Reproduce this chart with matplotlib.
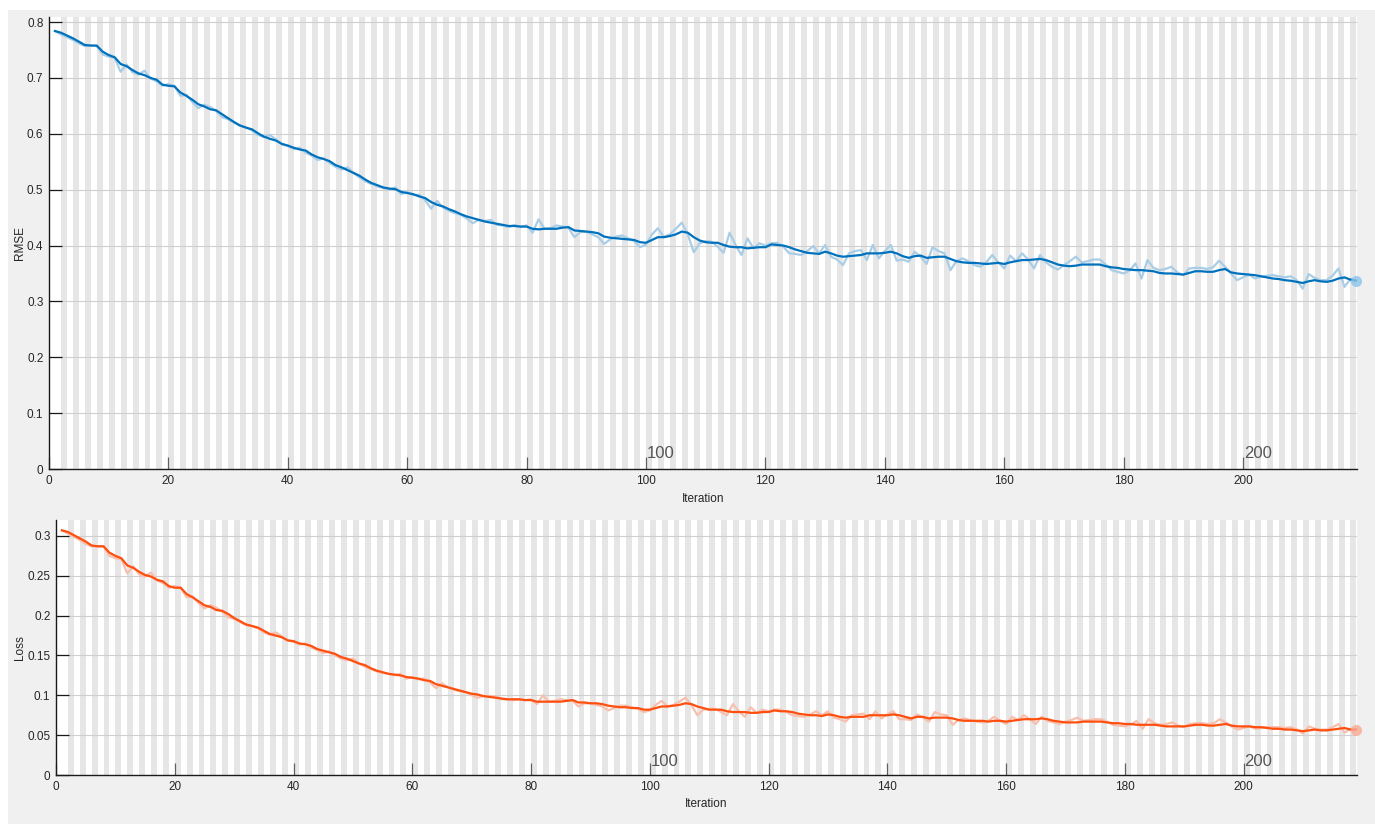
import matplotlib
matplotlib.use("Agg")
import matplotlib.pyplot as plt
from matplotlib.patches import Rectangle
from matplotlib.ticker import FuncFormatter, FixedLocator
import numpy as np

plt.rcParams['font.family'] = ['Liberation Sans', 'DejaVu Sans']

# ---------------- data ----------------
rmse_smooth = [
    0.784, 0.781, 0.776, 0.771, 0.765, 0.759, 0.758, 0.758, 0.747, 0.741,
    0.737, 0.725, 0.721, 0.714, 0.708, 0.705, 0.700, 0.697, 0.688, 0.686,
    0.685, 0.674, 0.668, 0.661, 0.653, 0.649, 0.644, 0.642, 0.635, 0.628,
    0.621, 0.615, 0.611, 0.608, 0.601, 0.595, 0.591, 0.588, 0.582, 0.579,
    0.575, 0.572, 0.570, 0.563, 0.558, 0.555, 0.551, 0.544, 0.540, 0.535,
    0.530, 0.525, 0.518, 0.512, 0.508, 0.504, 0.502, 0.501, 0.496, 0.494,
    0.492, 0.488, 0.485, 0.478, 0.473, 0.470, 0.465, 0.461, 0.456, 0.452,
    0.449, 0.446, 0.443, 0.441, 0.439, 0.437, 0.435, 0.435, 0.434, 0.434,
    0.430, 0.429, 0.430, 0.430, 0.430, 0.432, 0.433, 0.427, 0.426, 0.425,
    0.424, 0.422, 0.416, 0.414, 0.413, 0.412, 0.411, 0.410, 0.406, 0.405,
    0.410, 0.415, 0.415, 0.417, 0.420, 0.425, 0.423, 0.415, 0.409, 0.406,
    0.405, 0.405, 0.401, 0.398, 0.397, 0.397, 0.395, 0.396, 0.397, 0.397,
    0.402, 0.401, 0.400, 0.397, 0.393, 0.390, 0.387, 0.386, 0.385, 0.389,
    0.386, 0.382, 0.380, 0.381, 0.382, 0.383, 0.386, 0.386, 0.386, 0.387,
    0.389, 0.386, 0.381, 0.378, 0.381, 0.382, 0.378, 0.379, 0.380, 0.380,
    0.376, 0.372, 0.370, 0.369, 0.369, 0.368, 0.367, 0.368, 0.369, 0.367,
    0.370, 0.372, 0.374, 0.374, 0.375, 0.376, 0.374, 0.370, 0.366, 0.364,
    0.363, 0.364, 0.366, 0.366, 0.366, 0.366, 0.363, 0.361, 0.360, 0.358,
    0.357, 0.356, 0.356, 0.355, 0.354, 0.351, 0.350, 0.350, 0.349, 0.348,
    0.351, 0.354, 0.354, 0.353, 0.353, 0.356, 0.358, 0.352, 0.350, 0.349,
    0.348, 0.347, 0.345, 0.343, 0.341, 0.340, 0.338, 0.337, 0.335, 0.333,
    0.336, 0.338, 0.336, 0.335, 0.337, 0.341, 0.343, 0.339, 0.337,
]

rmse_raw = [
    0.784, 0.778, 0.773, 0.768, 0.762, 0.757, 0.758, 0.757, 0.742, 0.738,
    0.736, 0.711, 0.724, 0.710, 0.706, 0.713, 0.699, 0.694, 0.686, 0.689,
    0.686, 0.668, 0.670, 0.657, 0.646, 0.652, 0.648, 0.641, 0.630, 0.626,
    0.620, 0.614, 0.612, 0.606, 0.598, 0.594, 0.598, 0.590, 0.581, 0.578,
    0.573, 0.575, 0.566, 0.561, 0.553, 0.556, 0.548, 0.541, 0.536, 0.540,
    0.530, 0.522, 0.515, 0.510, 0.506, 0.503, 0.500, 0.504, 0.492, 0.496,
    0.490, 0.491, 0.481, 0.466, 0.480, 0.468, 0.462, 0.458, 0.455, 0.448,
    0.440, 0.446, 0.444, 0.446, 0.437, 0.436, 0.433, 0.437, 0.433, 0.436,
    0.423, 0.447, 0.430, 0.431, 0.436, 0.434, 0.432, 0.415, 0.424, 0.425,
    0.420, 0.415, 0.403, 0.411, 0.416, 0.418, 0.413, 0.408, 0.397, 0.402,
    0.420, 0.431, 0.415, 0.420, 0.430, 0.441, 0.420, 0.388, 0.404, 0.408,
    0.407, 0.398, 0.387, 0.423, 0.401, 0.383, 0.413, 0.395, 0.404, 0.400,
    0.404, 0.405, 0.398, 0.386, 0.385, 0.383, 0.390, 0.399, 0.386, 0.401,
    0.380, 0.375, 0.365, 0.386, 0.390, 0.392, 0.374, 0.401, 0.377, 0.390,
    0.401, 0.373, 0.375, 0.371, 0.389, 0.380, 0.367, 0.397, 0.390, 0.386,
    0.356, 0.372, 0.377, 0.372, 0.365, 0.362, 0.370, 0.383, 0.370, 0.359,
    0.382, 0.372, 0.386, 0.375, 0.359, 0.383, 0.370, 0.362, 0.357, 0.365,
    0.372, 0.380, 0.370, 0.372, 0.375, 0.375, 0.366, 0.356, 0.353, 0.350,
    0.355, 0.368, 0.341, 0.374, 0.360, 0.356, 0.358, 0.362, 0.352, 0.347,
    0.359, 0.360, 0.360, 0.358, 0.361, 0.373, 0.362, 0.350, 0.338, 0.343,
    0.348, 0.341, 0.344, 0.346, 0.347, 0.345, 0.343, 0.345, 0.338, 0.323,
    0.349, 0.342, 0.338, 0.338, 0.346, 0.359, 0.326, 0.340, 0.337,
]

loss_smooth = [
    0.307, 0.305, 0.301, 0.297, 0.293, 0.288, 0.287, 0.287, 0.279, 0.275,
    0.272, 0.263, 0.260, 0.255, 0.251, 0.249, 0.245, 0.243, 0.237, 0.235,
    0.235, 0.227, 0.223, 0.218, 0.213, 0.211, 0.207, 0.206, 0.202, 0.197,
    0.193, 0.189, 0.187, 0.185, 0.181, 0.177, 0.175, 0.173, 0.169, 0.168,
    0.165, 0.164, 0.162, 0.158, 0.156, 0.154, 0.152, 0.148, 0.146, 0.143,
    0.140, 0.138, 0.134, 0.131, 0.129, 0.127, 0.126, 0.125, 0.123, 0.122,
    0.121, 0.119, 0.118, 0.114, 0.112, 0.110, 0.108, 0.106, 0.104, 0.102,
    0.101, 0.099, 0.098, 0.097, 0.096, 0.095, 0.095, 0.095, 0.094, 0.094,
    0.092, 0.092, 0.092, 0.092, 0.092, 0.093, 0.094, 0.091, 0.091, 0.090,
    0.090, 0.089, 0.087, 0.086, 0.085, 0.085, 0.084, 0.084, 0.082, 0.082,
    0.084, 0.086, 0.086, 0.087, 0.088, 0.090, 0.089, 0.086, 0.084, 0.082,
    0.082, 0.082, 0.080, 0.079, 0.079, 0.079, 0.078, 0.078, 0.079, 0.079,
    0.081, 0.080, 0.080, 0.079, 0.077, 0.076, 0.075, 0.075, 0.074, 0.076,
    0.075, 0.073, 0.072, 0.073, 0.073, 0.073, 0.075, 0.075, 0.075, 0.075,
    0.076, 0.075, 0.073, 0.071, 0.073, 0.073, 0.071, 0.072, 0.072, 0.072,
    0.071, 0.069, 0.068, 0.068, 0.068, 0.068, 0.067, 0.068, 0.068, 0.067,
    0.068, 0.069, 0.070, 0.070, 0.070, 0.071, 0.070, 0.068, 0.067, 0.066,
    0.066, 0.066, 0.067, 0.067, 0.067, 0.067, 0.066, 0.065, 0.065, 0.064,
    0.064, 0.063, 0.063, 0.063, 0.063, 0.062, 0.061, 0.061, 0.061, 0.061,
    0.062, 0.063, 0.063, 0.062, 0.062, 0.063, 0.064, 0.062, 0.061, 0.061,
    0.061, 0.060, 0.060, 0.059, 0.058, 0.058, 0.057, 0.057, 0.056, 0.055,
    0.056, 0.057, 0.056, 0.056, 0.057, 0.058, 0.059, 0.057, 0.057,
]

loss_raw = [
    0.307, 0.303, 0.299, 0.295, 0.290, 0.287, 0.287, 0.287, 0.275, 0.272,
    0.271, 0.253, 0.262, 0.252, 0.249, 0.254, 0.244, 0.241, 0.235, 0.237,
    0.235, 0.223, 0.224, 0.216, 0.209, 0.213, 0.210, 0.205, 0.198, 0.196,
    0.192, 0.188, 0.187, 0.184, 0.179, 0.176, 0.179, 0.174, 0.169, 0.167,
    0.164, 0.165, 0.160, 0.157, 0.153, 0.155, 0.150, 0.146, 0.144, 0.146,
    0.140, 0.136, 0.133, 0.130, 0.128, 0.127, 0.125, 0.127, 0.121, 0.123,
    0.120, 0.121, 0.116, 0.109, 0.115, 0.110, 0.107, 0.105, 0.104, 0.100,
    0.097, 0.099, 0.099, 0.099, 0.095, 0.095, 0.094, 0.095, 0.094, 0.095,
    0.089, 0.100, 0.092, 0.093, 0.095, 0.094, 0.093, 0.086, 0.090, 0.090,
    0.088, 0.086, 0.081, 0.084, 0.087, 0.087, 0.085, 0.083, 0.079, 0.081,
    0.088, 0.093, 0.086, 0.088, 0.092, 0.097, 0.088, 0.075, 0.082, 0.083,
    0.083, 0.079, 0.075, 0.089, 0.080, 0.073, 0.085, 0.078, 0.082, 0.080,
    0.082, 0.082, 0.079, 0.075, 0.074, 0.073, 0.076, 0.080, 0.075, 0.080,
    0.072, 0.070, 0.067, 0.075, 0.076, 0.077, 0.070, 0.080, 0.071, 0.076,
    0.080, 0.070, 0.070, 0.069, 0.076, 0.072, 0.067, 0.079, 0.076, 0.075,
    0.063, 0.069, 0.071, 0.069, 0.067, 0.066, 0.068, 0.073, 0.068, 0.064,
    0.073, 0.069, 0.075, 0.070, 0.064, 0.073, 0.068, 0.066, 0.064, 0.067,
    0.069, 0.072, 0.068, 0.069, 0.070, 0.070, 0.067, 0.063, 0.062, 0.061,
    0.063, 0.068, 0.058, 0.070, 0.065, 0.063, 0.064, 0.066, 0.062, 0.060,
    0.064, 0.065, 0.065, 0.064, 0.065, 0.070, 0.066, 0.061, 0.057, 0.059,
    0.061, 0.058, 0.059, 0.060, 0.060, 0.060, 0.059, 0.060, 0.057, 0.052,
    0.061, 0.058, 0.057, 0.057, 0.060, 0.064, 0.053, 0.058, 0.057,
]

iterations = np.arange(1, len(rmse_smooth) + 1)
iters_per_epoch = 1
x_ticks = [0, 20, 40, 60, 80, 100, 120, 140, 160, 180, 200]
marker_iters = [100, 200]
rmse_ticks = [0, 0.1, 0.2, 0.3, 0.4, 0.5, 0.6, 0.7, 0.8]
loss_ticks = [0, 0.05, 0.1, 0.15, 0.2, 0.25, 0.3]

# ---------------- figure ----------------
W, H, DPI = 1375, 824, 100
fig = plt.figure(figsize=(W / DPI, H / DPI), dpi=DPI, facecolor='white')
fig.patches.append(Rectangle((8 / W, 0), 1 - 8 / W, 1 - 10 / H,
                             transform=fig.transFigure, facecolor='#f0f0f0',
                             edgecolor='none', zorder=-10))

def px_rect(l, t, r, b):
    return [l / W, 1 - b / H, (r - l) / W, (b - t) / H]

ax1 = fig.add_axes(px_rect(49, 16.5, 1357, 469))
ax2 = fig.add_axes(px_rect(56, 520, 1357, 775))

XMAX = 219.1
tick_color = '#262626'


def style_axis(ax, ymax, yticks, ylabel, marker_offset, xlabelpad):
    ax.set_facecolor('white')
    ax.set_xlim(0, XMAX)
    ax.set_ylim(0, ymax)
    # alternating epoch shading
    n_epochs = int(np.ceil(XMAX / iters_per_epoch))
    for e in range(2, n_epochs + 1, 2):
        ax.axvspan(e * iters_per_epoch, min((e + 1) * iters_per_epoch, XMAX),
                   facecolor='#e6e6e6', edgecolor='none', zorder=0)
    for yv in yticks[1:]:
        ax.axhline(yv, color='#cfcfcf', lw=0.8, zorder=1)
    for s in ['top', 'right']:
        ax.spines[s].set_visible(False)
    for s in ['left', 'bottom']:
        ax.spines[s].set_color('#1a1a1a')
        ax.spines[s].set_linewidth(1.0)
        ax.spines[s].set_zorder(5)
    ax.xaxis.set_major_locator(FixedLocator(x_ticks))
    ax.yaxis.set_major_locator(FixedLocator(yticks))
    ax.yaxis.set_major_formatter(FuncFormatter(lambda v, p: f'{v:g}'))
    ax.tick_params(axis='x', direction='in', length=9, width=0.9,
                   color='#606060', labelcolor=tick_color, labelsize=8.5, pad=4)
    ax.tick_params(axis='y', direction='in', length=9, width=0.9,
                   color='#1a1a1a', labelcolor=tick_color, labelsize=8.5, pad=4)
    ax.set_xlabel('Iteration', fontsize=8.5, color=tick_color, labelpad=xlabelpad)
    ax.set_ylabel(ylabel, fontsize=8.5, color=tick_color, labelpad=1)
    for m in marker_iters:
        ax.annotate(str(m), xy=(m, 0), xycoords='data',
                    xytext=(0.5, marker_offset), textcoords='offset points',
                    fontsize=12, color='#555555', ha='left', va='bottom',
                    zorder=6)


style_axis(ax1, 0.81, rmse_ticks, 'RMSE', 6, 5)
style_axis(ax2, 0.32, loss_ticks, 'Loss', 4, 4)

# RMSE curves
ax1.plot(iterations, rmse_raw, color='#aacde6', lw=1.6, zorder=3)
ax1.plot(iterations, rmse_smooth, color='#0072bd', lw=1.6, zorder=4)
ax1.plot(iterations[-1], rmse_raw[-1], 'o', ms=8, color='#8cc3ea', alpha=0.8,
         mec='none', zorder=4, clip_on=False)

# Loss curves
ax2.plot(iterations, loss_raw, color='#f7bfae', lw=1.6, zorder=3)
ax2.plot(iterations, loss_smooth, color='#ff4f0f', lw=1.6, zorder=4)
ax2.plot(iterations[-1], loss_raw[-1], 'o', ms=8, color='#f9a993', alpha=0.8,
         mec='none', zorder=4, clip_on=False)

fig.savefig('out.png', dpi=DPI, facecolor=fig.get_facecolor())
